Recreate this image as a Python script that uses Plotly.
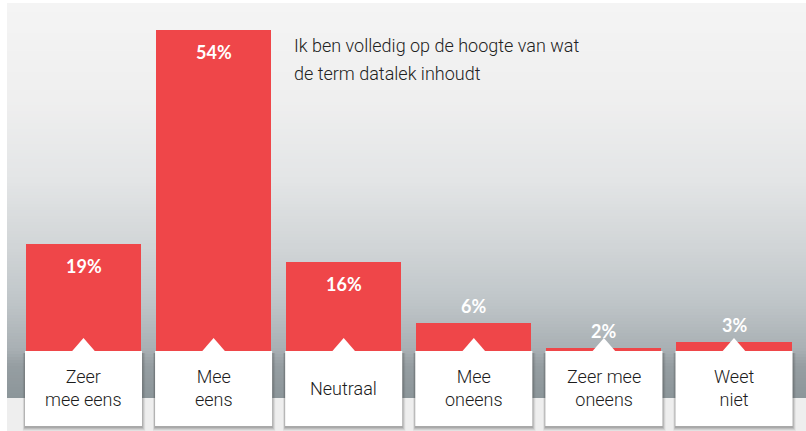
import plotly.graph_objects as go

categories = ["Zeer<br>mee eens", "Mee<br>eens", "Neutraal", "Mee<br>oneens", "Zeer mee<br>oneens", "Weet<br>niet"]
values = [19, 54, 16, 6, 2, 3]
value_labels = ["19%", "54%", "16%", "6%", "2%", "3%"]
title_lines = ["Ik ben volledig op de hoogte van wat", "de term datalek inhoudt"]

W, H = 806, 431
BAR_COLOR = "#EF4649"
TEXT_FONT = "Roboto, Liberation Sans Narrow, sans-serif"
xs = list(range(len(categories)))

def py(p):  # pixel y -> paper y
    return 1 - p / H

def px(p):
    return p / W

fig = go.Figure()
fig.add_trace(go.Bar(x=xs, y=values, width=0.885, marker=dict(color=BAR_COLOR, line=dict(width=0)),
                     hoverinfo="skip", showlegend=False))

shapes = []
# gradient panel
stops = [(3, (244, 244, 244)), (100, (239, 239, 239)), (180, (227, 229, 230)), (250, (208, 212, 214)),
         (300, (192, 198, 201)), (350, (168, 175, 179)), (365, (150, 158, 162)), (398, (140, 150, 154))]
def col_at(p):
    for (a, ca), (b, cb) in zip(stops[:-1], stops[1:]):
        if a <= p <= b:
            t = (p - a) / (b - a)
            return tuple(round(ca[i] + (cb[i] - ca[i]) * t) for i in range(3))
    return stops[-1][1]
step = 3
p = 3
while p < 398:
    q = min(p + step, 398)
    c = col_at((p + q) / 2)
    shapes.append(dict(type="rect", xref="paper", yref="paper", x0=px(7), x1=1, y0=py(q + 0.5), y1=py(p),
                       fillcolor="rgb(%d,%d,%d)" % c, line=dict(width=0), layer="below"))
    p = q
# light band below panel
shapes.append(dict(type="rect", xref="paper", yref="paper", x0=px(7), x1=1, y0=py(431), y1=py(398),
                   fillcolor="#eeeeee", line=dict(width=0), layer="below"))

# label boxes
half = 0.45
notch_w = 0.09
box_top, box_bot = 351, 426
for i in xs:
    for k, op in [(4, 0.07), (3, 0.09), (2, 0.12), (1, 0.16)]:
        shapes.append(dict(type="rect", xref="x", yref="paper", x0=i - half - k * 0.004, x1=i + half + k * 0.006,
                           y0=py(box_bot + k + 1), y1=py(box_top + 2),
                           fillcolor="rgba(60,60,60,%.2f)" % op, line=dict(width=0), layer="above"))
    shapes.append(dict(type="rect", xref="x", yref="paper", x0=i - half, x1=i + half,
                       y0=py(box_bot), y1=py(box_top), fillcolor="#ffffff", line=dict(width=0), layer="above"))
    path = "M %f,%f L %f,%f L %f,%f Z" % (i - notch_w, py(box_top + 0.5), i, py(338), i + notch_w, py(box_top + 0.5))
    shapes.append(dict(type="path", xref="x", yref="paper", path=path, fillcolor="#ffffff",
                       line=dict(width=0), layer="above"))

annotations = []
for i, (cat, v, lab) in enumerate(zip(categories, values, value_labels)):
    annotations.append(dict(x=i, y=py(388), xref="x", yref="paper", text=cat, showarrow=False,
                            font=dict(family=TEXT_FONT, size=18, color="#1c1c1c", weight=300),
                            align="center", xanchor="center", yanchor="middle"))
    inside = v >= 10
    annotations.append(dict(x=i, y=v, xref="x", yref="y", text="<b>%s</b>" % lab, showarrow=False,
                            font=dict(family="Lato, Open Sans, sans-serif", size=18, color="#ffffff"),
                            xanchor="center", yanchor="middle", yshift=-22 if inside else 17))

for line, yy in zip(title_lines, [45, 73]):
    annotations.append(dict(x=px(292), y=py(yy), xref="paper", yref="paper", text=line, showarrow=False,
                            font=dict(family=TEXT_FONT, size=18, color="#222222", weight=300),
                            xanchor="left", yanchor="middle"))

ppu = 330 / 54.0
base_px = 360
fig.update_layout(
    width=W, height=H, margin=dict(l=0, r=0, t=0, b=0),
    paper_bgcolor="#ffffff", plot_bgcolor="rgba(0,0,0,0)",
    xaxis=dict(range=[-83.5 / 130.1, (W - 83.5) / 130.1], visible=False, fixedrange=True),
    yaxis=dict(range=[(base_px - H) / ppu, base_px / ppu], visible=False, fixedrange=True),
    shapes=shapes, annotations=annotations, bargap=0, showlegend=False,
)
fig.write_html("out.html", config={"displayModeBar": False},
               post_script="document.body.style.margin='0';document.body.style.overflow='hidden';")
